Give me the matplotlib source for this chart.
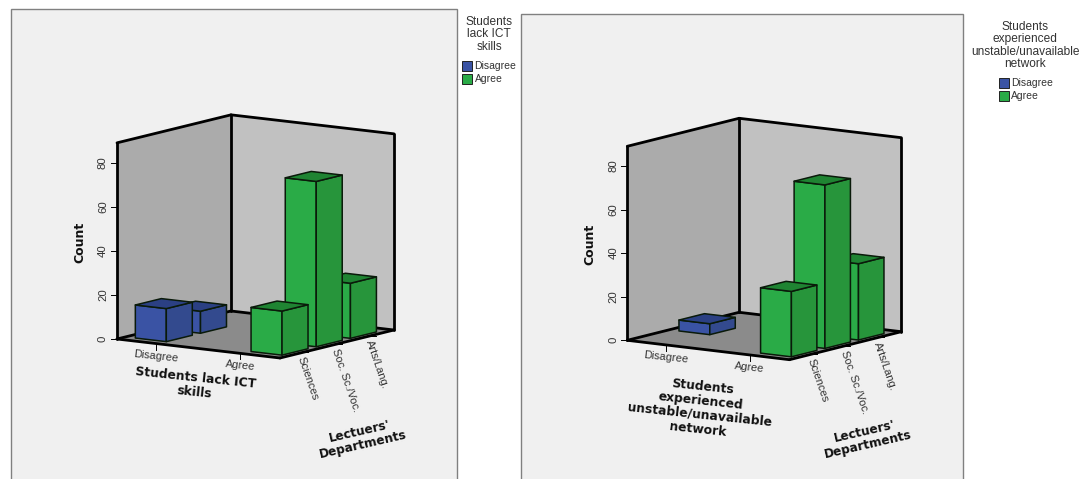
"""Two SPSS style 3-D bar charts: lecturers' departments against student responses."""
import matplotlib
matplotlib.use("Agg")
import numpy as np
import matplotlib.pyplot as plt
from matplotlib.patches import Polygon, Rectangle

plt.rcParams["font.family"] = ["Liberation Sans", "DejaVu Sans"]

RESPONSES = ["Disagree", "Agree"]
DEPARTMENTS = ["Sciences", "Soc. Sc./Voc.", "Arts/Lang."]
COUNT_TICKS = [0, 20, 40, 60, 80]

ICT_COUNTS = [[15, 10, 0], [20, 75, 25]]
NETWORK_COUNTS = [[0, 5, 0], [30, 75, 35]]

ICT_TITLE = "Students lack ICT\nskills"
NETWORK_TITLE = "Students\nexperienced\nunstable/unavailable\nnetwork"
ICT_LEGEND = "Students\nlack ICT\nskills"
NETWORK_LEGEND = "Students\nexperienced\nunstable/unavailable\nnetwork"
DEPT_TITLE = "Lectuers'\nDepartments"

BLUE = ("#3A53A4", "#334A8E", "#2B4083")
GREEN = ("#2AAB47", "#27953B", "#1F8432")
TOP_COUNT = 89
BG = "#F0F0F0"
INK = "#333333"


class Box:
    """Oblique projection of the chart cube onto pixels."""

    def __init__(self, origin, u, v, zscale):
        self.o = np.array(origin, float)
        self.u = np.array(u, float)
        self.v = np.array(v, float)
        self.z = zscale

    def __call__(self, u, v, c=0):
        p = self.o + u * self.u + v * self.v
        return p[0], p[1] - c * self.z


def poly(ax, pts, color, edge="#0A1A0A", lw=1.1, z=2):
    ax.add_patch(Polygon(pts, closed=True, fc=color, ec=edge, lw=lw, joinstyle="round", zorder=z))


def draw_bar(ax, p, u0, u1, v0, v1, c, cols):
    front, side, top = cols
    poly(ax, [p(u0, v0), p(u1, v0), p(u1, v0, c), p(u0, v0, c)], front)
    poly(ax, [p(u1, v0), p(u1, v1), p(u1, v1, c), p(u1, v0, c)], side)
    poly(ax, [p(u0, v0, c), p(u1, v0, c), p(u1, v1, c), p(u0, v1, c)], top)


def draw_chart(ax, p, counts, title, title_xy, dept_xy):
    a, b, c, d = p(0, 0), p(1, 0), p(0, 1), p(1, 1)
    a2, c2, d2 = p(0, 0, TOP_COUNT), p(0, 1, TOP_COUNT), p(1, 1, TOP_COUNT)
    poly(ax, [a, c, c2, a2], "#ABABAB", edge="none", lw=0, z=1)
    poly(ax, [c, d, d2, c2], "#C1C1C1", edge="none", lw=0, z=1)
    poly(ax, [a, b, d, c], "#8B8B8B", edge="none", lw=0, z=1)
    for s, e in [(a, a2), (a2, c2), (c2, d2), (d2, d), (c, c2), (a, c), (c, d)]:
        ax.plot([s[0], e[0]], [s[1], e[1]], color="black", lw=2.0, zorder=1.5,
                solid_capstyle="round")

    # bars go back to front so the near ones cover the far ones
    u_centers = [0.155, 0.865]
    v_centers = [0.189, 0.489, 0.789]
    for j in (2, 1, 0):
        for i in (0, 1):
            cnt = counts[i][j]
            if cnt <= 0:
                continue
            draw_bar(ax, p, u_centers[i] - 0.095, u_centers[i] + 0.095,
                     v_centers[j] - 0.114, v_centers[j] + 0.114, cnt,
                     BLUE if i == 0 else GREEN)
    for s, e in [(a, b), (b, d)]:
        ax.plot([s[0], e[0]], [s[1], e[1]], color="black", lw=2.0, zorder=1.8,
                solid_capstyle="round")

    # count axis
    for t in COUNT_TICKS:
        x, y = p(0, 0, t)
        ax.plot([x - 6, x], [y, y], color="black", lw=0.7, zorder=3)
        ax.text(x - 9, y, str(t), rotation=90, ha="right", va="center",
                fontsize=8.2, color=INK)
    x, y = p(0, 0, 44)
    ax.text(x - 37, y, "Count", rotation=90, ha="center", va="center", fontsize=9,
            fontweight="bold", family="DejaVu Sans", color="#111111")

    # response axis
    for uu, lab in zip([0.24, 0.755], RESPONSES):
        x, y = p(uu, 0)
        ax.plot([x, x], [y + 1, y + 6], color="black", lw=0.7, zorder=3)
        ax.text(x, y + 12.5, lab, rotation=-6, ha="center", va="center",
                fontsize=8, color=INK, rotation_mode="anchor")

    # department axis
    for vv, lab in zip([0.2, 0.5, 0.8], DEPARTMENTS):
        x, y = p(1, vv)
        ax.plot([x, x + 5], [y, y], color="black", lw=0.7, zorder=3)
        ax.text(x - 2, y + 5, lab, rotation=-71, ha="left", va="center",
                fontsize=8, color=INK, rotation_mode="anchor")

    ax.text(title_xy[0], title_xy[1], title, rotation=-6, ha="center", va="center",
            fontsize=8.9, fontweight="bold", family="DejaVu Sans", color="#111111",
            linespacing=1.12, multialignment="center", rotation_mode="anchor")
    ax.text(dept_xy[0], dept_xy[1], DEPT_TITLE, rotation=13, ha="center", va="center",
            fontsize=8.7, fontweight="bold", family="DejaVu Sans", color="#111111",
            linespacing=1.08, multialignment="center", rotation_mode="anchor")


def draw_legend(ax, title, cx, ty, sx, sy):
    ax.text(cx, ty, title, ha="center", va="top", fontsize=8.6, color=INK,
            linespacing=1.06, multialignment="center")
    for k, (lab, cols) in enumerate(zip(RESPONSES, (BLUE, GREEN))):
        y = sy + k * 13
        ax.add_patch(Rectangle((sx, y), 10, 10, fc=cols[0], ec="#222222", lw=0.7))
        ax.text(sx + 12.5, y + 5.2, lab, ha="left", va="center", fontsize=7.5, color=INK)


fig = plt.figure(figsize=(10.83, 4.79), dpi=100)
fig.patch.set_facecolor("white")
ax = fig.add_axes([0, 0, 1, 1])
ax.set_xlim(0, 1083)
ax.set_ylim(479, 0)
ax.axis("off")

for x0, x1, y0 in [(10.5, 456.5, 8.5), (521, 963, 14)]:
    ax.add_patch(Rectangle((x0, y0), x1 - x0, 479 - y0 + 3, fc=BG, ec="#808080", lw=1.0, zorder=0))

left = Box((117, 339), (163, 19), (114, -28), 2.204)
right = Box((627.3, 340.3), (162.2, 19.4), (111.8, -28), 2.18)

draw_chart(ax, left, ICT_COUNTS, ICT_TITLE, (195, 385), (361, 438))
draw_chart(ax, right, NETWORK_COUNTS, NETWORK_TITLE, (700, 408), (866, 438))
draw_legend(ax, ICT_LEGEND, 489, 15.5, 462, 61)
draw_legend(ax, NETWORK_LEGEND, 1025, 20.5, 998.5, 78)

fig.savefig("out.png", dpi=100, facecolor="white")
